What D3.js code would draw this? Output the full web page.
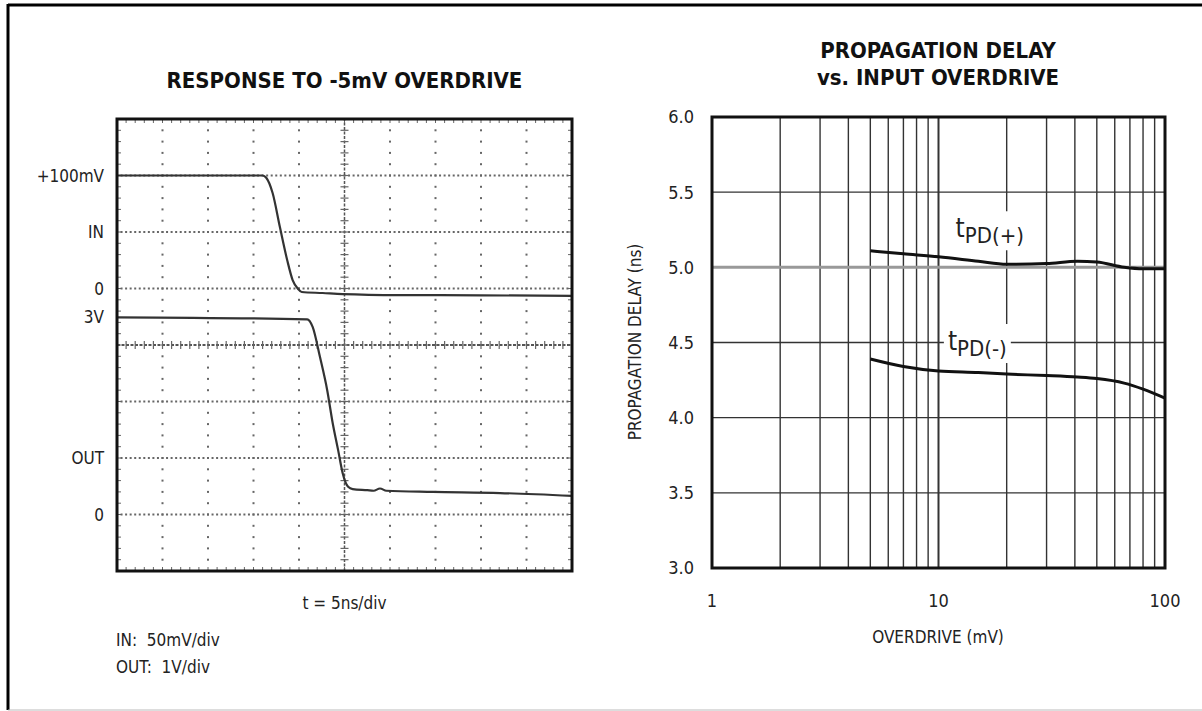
<!DOCTYPE html>
<html>
<head>
<meta charset="utf-8">
<script src="https://cdn.jsdelivr.net/npm/d3@7"></script>
<style>
  body { margin: 0; background: #fff; }
  svg { display: block; }
  text { font-family: "Liberation Sans Narrow", "DejaVu Sans Condensed", "Arial Narrow", sans-serif; fill: #222; }
  .title { font-weight: bold; font-size: 22px; fill: #111; }
</style>
</head>
<body>
<div class="chart"></div>
<script>
const width = 1202;
const height = 711;

// scope traces (time in ns, IN in mV, OUT in V)
const inTime = [0, 16.0, 16.4, 17.1, 17.9, 18.7, 19.3, 19.9, 20.3, 22.6, 24.8, 31.1, 40, 50];
const inMv = [100, 100, 98, 84.5, 54.4, 25.2, 7.5, -0.4, -3.1, -4.0, -4.9, -5.8, -6.0, -6.6];
const outTime = [0, 20.9, 21.5, 22.3, 23.1, 23.7, 24.3, 24.8, 25.4, 25.9, 27.5, 28.2, 28.9, 29.6, 34.7, 42.1, 50];
const outV = [3.49, 3.455, 3.32, 2.79, 2.2, 1.62, 1.14, 0.73, 0.49, 0.45, 0.43, 0.42, 0.46, 0.42, 0.4, 0.38, 0.33];

const scopeLabels = [
  { text: "+100mV", trace: "in", value: 100 },
  { text: "IN", trace: "in", value: 50 },
  { text: "0", trace: "in", value: 0 },
  { text: "3V", trace: "out", value: 3.49 },
  { text: "OUT", trace: "out", value: 1 },
  { text: "0", trace: "out", value: 0 }
];

// propagation delay vs overdrive
const overdrive = [5, 7, 10, 15, 20, 30, 41, 50, 66, 80, 100];
const tpdPlus = [5.11, 5.09, 5.07, 5.04, 5.02, 5.025, 5.04, 5.035, 5.0, 4.99, 4.99];
const tpdMinus = [4.39, 4.34, 4.31, 4.30, 4.29, 4.28, 4.27, 4.26, 4.23, 4.19, 4.13];
const delayTicks = [3.0, 3.5, 4.0, 4.5, 5.0, 5.5, 6.0];
const overdriveTicks = [1, 10, 100];

const svg = d3.select(".chart")
    .append("svg")
    .attr("width", width)
    .attr("height", height);

// outer frame
svg.append("line").attr("x1", 8).attr("x2", width).attr("y1", 5).attr("y2", 5)
    .attr("stroke", "#000").attr("stroke-width", 3);
svg.append("line").attr("x1", 8).attr("x2", 8).attr("y1", 4).attr("y2", 710)
    .attr("stroke", "#000").attr("stroke-width", 3);
svg.append("line").attr("x1", 8).attr("x2", width).attr("y1", 710).attr("y2", 710)
    .attr("stroke", "#bbb").attr("stroke-width", 1);

/* ---------- left: scope picture ---------- */
const sx = d3.scaleLinear().domain([0, 50]).range([117, 572]);
const yIn = d3.scaleLinear().domain([-250, 150]).range([571, 119]);
const yOut = d3.scaleLinear().domain([-1, 7]).range([571, 119]);

const scope = svg.append("g");
const divX = d3.range(0, 51, 5);          // 10 divisions
const divY = d3.range(-1, 8, 1);          // 8 divisions (in OUT volts)
const minorX = d3.range(0, 50.01, 1);     // 5 per division
const minorY = d3.range(-1, 7.001, 0.2);  // 5 per division
const halfX = d3.range(0, 50.01, 0.5);

// dotted vertical grid
divX.slice(1, -1).filter(d => d !== 25).forEach(t => {
  scope.selectAll(null).data(minorY).join("rect")
      .attr("x", sx(t) - 1).attr("y", d => yOut(d) - 1)
      .attr("width", 2).attr("height", 2).attr("fill", "#666");
});
// dotted horizontal grid
divY.slice(1, -1).filter(d => d !== 3).forEach(v => {
  scope.selectAll(null).data(halfX).join("rect")
      .attr("x", d => sx(d) - 1).attr("y", yOut(v) - 1)
      .attr("width", 2).attr("height", 2).attr("fill", "#666");
});
// centre cross with ticks
scope.append("line").attr("x1", sx(0)).attr("x2", sx(50)).attr("y1", yOut(3)).attr("y2", yOut(3))
    .attr("stroke", "#555").attr("stroke-width", 2).attr("stroke-dasharray", "3,1.5");
scope.append("line").attr("x1", sx(25)).attr("x2", sx(25)).attr("y1", yOut(-1)).attr("y2", yOut(7))
    .attr("stroke", "#555").attr("stroke-width", 1.5).attr("stroke-dasharray", "3,1.5");
scope.selectAll(null).data(minorX).join("line")
    .attr("x1", d => sx(d)).attr("x2", d => sx(d))
    .attr("y1", yOut(3) - 4).attr("y2", yOut(3) + 4)
    .attr("stroke", "#666").attr("stroke-width", 1.2);
scope.selectAll(null).data(minorY).join("line")
    .attr("x1", sx(25) - 4).attr("x2", sx(25) + 4)
    .attr("y1", d => yOut(d)).attr("y2", d => yOut(d))
    .attr("stroke", "#666").attr("stroke-width", 1.2);
// border ticks
scope.selectAll(null).data(minorX).join("line")
    .attr("x1", d => sx(d)).attr("x2", d => sx(d))
    .attr("y1", yOut(-1)).attr("y2", yOut(-1) - 4)
    .attr("stroke", "#666");
scope.selectAll(null).data(minorX).join("line")
    .attr("x1", d => sx(d)).attr("x2", d => sx(d))
    .attr("y1", yOut(7)).attr("y2", yOut(7) + 4)
    .attr("stroke", "#666");
scope.selectAll(null).data(minorY).join("line")
    .attr("x1", sx(0)).attr("x2", sx(0) + 4)
    .attr("y1", d => yOut(d)).attr("y2", d => yOut(d))
    .attr("stroke", "#666");
scope.selectAll(null).data(minorY).join("line")
    .attr("x1", sx(50)).attr("x2", sx(50) - 4)
    .attr("y1", d => yOut(d)).attr("y2", d => yOut(d))
    .attr("stroke", "#666");

// traces
const inLine = d3.line().x(d => sx(d[0])).y(d => yIn(d[1])).curve(d3.curveMonotoneX);
const outLine = d3.line().x(d => sx(d[0])).y(d => yOut(d[1])).curve(d3.curveMonotoneX);
scope.append("path")
    .attr("d", inLine(d3.zip(inTime, inMv)))
    .attr("fill", "none").attr("stroke", "#333").attr("stroke-width", 2.2);
scope.append("path")
    .attr("d", outLine(d3.zip(outTime, outV)))
    .attr("fill", "none").attr("stroke", "#333").attr("stroke-width", 2.2);

scope.append("rect")
    .attr("x", sx(0)).attr("y", yOut(7))
    .attr("width", sx(50) - sx(0)).attr("height", yOut(-1) - yOut(7))
    .attr("fill", "none").attr("stroke", "#111").attr("stroke-width", 3);

scope.selectAll("text.lbl").data(scopeLabels).join("text")
    .attr("class", "lbl")
    .attr("x", 104)
    .attr("y", d => d.trace === "in" ? yIn(d.value) : yOut(d.value))
    .attr("dy", "0.36em")
    .attr("text-anchor", "end")
    .attr("font-size", 17)
    .text(d => d.text);

svg.append("text").attr("class", "title")
    .attr("x", sx(25)).attr("y", 88).attr("text-anchor", "middle")
    .text("RESPONSE TO -5mV OVERDRIVE");
svg.append("text")
    .attr("x", sx(25)).attr("y", 609).attr("text-anchor", "middle").attr("font-size", 17)
    .text("t = 5ns/div");
svg.append("text")
    .attr("x", 116).attr("y", 646).attr("font-size", 17)
    .attr("xml:space", "preserve")
    .text("IN:  50mV/div");
svg.append("text")
    .attr("x", 116).attr("y", 673).attr("font-size", 17)
    .attr("xml:space", "preserve")
    .text("OUT:  1V/div");

/* ---------- right: propagation delay ---------- */
const x = d3.scaleLog().domain([1, 100]).range([712, 1165]);
const y = d3.scaleLinear().domain([3, 6]).range([568, 117]);

const plot = svg.append("g");
const logGrid = [2, 3, 4, 5, 6, 7, 8, 9, 10, 20, 30, 40, 50, 60, 70, 80, 90];
plot.selectAll("line.vg").data(logGrid).join("line")
    .attr("class", "vg")
    .attr("x1", d => x(d)).attr("x2", d => x(d))
    .attr("y1", y(3)).attr("y2", y(6))
    .attr("stroke", "#333").attr("stroke-width", d => d === 10 ? 2 : 1.4);
plot.selectAll("line.hg").data(delayTicks.slice(1, -1)).join("line")
    .attr("class", "hg")
    .attr("x1", x(1)).attr("x2", x(100))
    .attr("y1", d => y(d)).attr("y2", d => y(d))
    .attr("stroke", d => d === 5.0 ? "#999" : "#333")
    .attr("stroke-width", d => d === 5.0 ? 3 : 1.4);

const delayLine = d3.line().x(d => x(d[0])).y(d => y(d[1])).curve(d3.curveMonotoneX);
plot.append("path")
    .attr("d", delayLine(d3.zip(overdrive, tpdPlus)))
    .attr("fill", "none").attr("stroke", "#111").attr("stroke-width", 3);
plot.append("path")
    .attr("d", delayLine(d3.zip(overdrive, tpdMinus)))
    .attr("fill", "none").attr("stroke", "#111").attr("stroke-width", 3);

// curve labels with white background
function curveLabel(sign, px, py) {
  const g = plot.append("g");
  const t = g.append("text").attr("x", px).attr("y", py).attr("font-size", 26);
  t.append("tspan").text("t");
  t.append("tspan").attr("font-size", 22).attr("dy", 6).text("PD(" + sign + ")");
  const b = t.node().getBBox();
  g.insert("rect", "text")
      .attr("x", b.x - 4).attr("y", b.y - 2)
      .attr("width", b.width + 8).attr("height", b.height + 4)
      .attr("fill", "#fff");
}
curveLabel("+", x(11.9), y(5.2));
curveLabel("-", x(11), y(4.45));

plot.append("rect")
    .attr("x", x(1)).attr("y", y(6))
    .attr("width", x(100) - x(1)).attr("height", y(3) - y(6))
    .attr("fill", "none").attr("stroke", "#111").attr("stroke-width", 3);

plot.selectAll("text.yt").data(delayTicks).join("text")
    .attr("class", "yt")
    .attr("x", 694).attr("y", d => y(d)).attr("dy", "0.36em")
    .attr("text-anchor", "end").attr("font-size", 18)
    .text(d => d.toFixed(1));
plot.selectAll("text.xt").data(overdriveTicks).join("text")
    .attr("class", "xt")
    .attr("x", d => x(d)).attr("y", 607)
    .attr("text-anchor", "middle").attr("font-size", 18)
    .text(d => d);

svg.append("text")
    .attr("x", 938).attr("y", 643).attr("text-anchor", "middle").attr("font-size", 17)
    .text("OVERDRIVE (mV)");
svg.append("text")
    .attr("transform", "translate(641,342) rotate(-90)")
    .attr("text-anchor", "middle").attr("font-size", 17)
    .text("PROPAGATION DELAY (ns)");
svg.append("text").attr("class", "title")
    .attr("x", 938).attr("y", 58).attr("text-anchor", "middle")
    .text("PROPAGATION DELAY");
svg.append("text").attr("class", "title")
    .attr("x", 938).attr("y", 85).attr("text-anchor", "middle")
    .text("vs. INPUT OVERDRIVE");
</script>
</body>
</html>
